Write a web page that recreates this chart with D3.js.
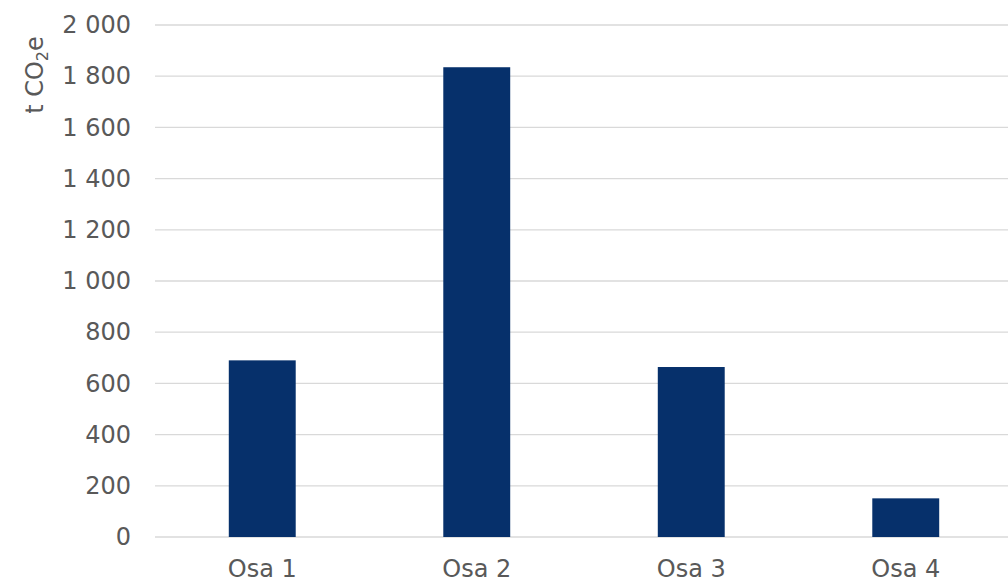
<!DOCTYPE html>
<html><head><meta charset="utf-8">
<script src="https://cdn.jsdelivr.net/npm/d3@7"></script>
<style>body{margin:0;background:#fff;}svg{display:block;}</style>
</head><body>
<svg id="c" width="1008" height="581"></svg>
<script>
const categories = ["Osa 1", "Osa 2", "Osa 3", "Osa 4"];
const values = [690, 1835, 664, 151];
const yTicks = [0, 200, 400, 600, 800, 1000, 1200, 1400, 1600, 1800, 2000];

const svg = d3.select("#c");
const font = "'DejaVu Sans', Verdana, sans-serif";
const textColor = "#595959";
const fs = 24;

const x = d3.scaleBand().domain(categories).range([155, 1013]).paddingInner(0.688).paddingOuter(0.344);
const y = d3.scaleLinear().domain([0, 2000]).range([537, 25]);

const fmt = v => d3.format(",")(v).replace(/,/g, " ");

// gridlines
svg.append("g").selectAll("line").data(yTicks).join("line")
  .attr("x1", 155).attr("x2", 1008)
  .attr("y1", d => y(d)).attr("y2", d => y(d))
  .attr("stroke", "#d9d9d9").attr("stroke-width", 1.3);

// y axis labels
const yAxis = d3.axisLeft(y).tickValues(yTicks).tickFormat(fmt).tickSize(0).tickPadding(0);
const ga = svg.append("g").attr("transform", "translate(131,0)").call(yAxis);
ga.select(".domain").remove();
ga.selectAll("text").attr("font-family", font).attr("font-size", fs).attr("fill", textColor);

// bars
svg.append("g").selectAll("rect").data(values).join("rect")
  .attr("x", (d, i) => x(categories[i]))
  .attr("width", x.bandwidth())
  .attr("y", d => y(d))
  .attr("height", d => y(0) - y(d))
  .attr("fill", "#06306b");

// x axis labels
const xAxis = d3.axisBottom(x).tickSize(0).tickPadding(0);
const gx = svg.append("g").attr("transform", "translate(0,560)").call(xAxis);
gx.select(".domain").remove();
gx.selectAll("text").attr("font-family", font).attr("font-size", fs).attr("fill", textColor).attr("dy", "0.71em");

// y title
const t = svg.append("text")
  .attr("transform", "translate(43,75) rotate(-90)")
  .attr("text-anchor", "middle")
  .attr("font-family", font).attr("font-size", fs).attr("fill", textColor);
t.append("tspan").text("t CO");
t.append("tspan").attr("font-size", 16).attr("dy", 5).text("2");
t.append("tspan").attr("dy", -5).text("e");
</script>
</body></html>
